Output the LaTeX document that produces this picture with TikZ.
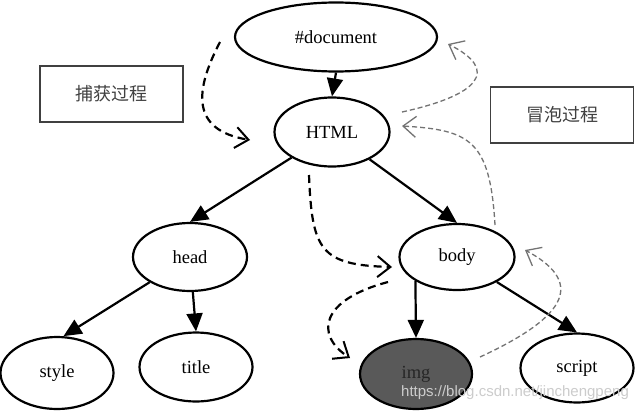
\documentclass[tikz,border=0pt]{standalone}
\usepackage{fontspec}
\setmainfont{Liberation Serif}
\newfontfamily\cjk{Noto Sans CJK SC}
\newfontfamily\wmfont{Liberation Sans}
\usetikzlibrary{shapes.geometric,arrows.meta}
\begin{document}
\begin{tikzpicture}[x=1pt,y=-1pt,
  el/.style={ellipse,draw,line width=2.2pt,inner sep=0pt,font=\fontsize{18.5}{20}\selectfont},
  edge/.style={line width=2.2pt,-{Triangle[length=18pt,width=16pt]}},
  capflow/.style={dash pattern=on 8pt off 5pt,line width=2.2pt,-{Straight Barb[length=13pt,width=21pt,line width=2pt]}},
  bubflow/.style={draw=black!55,dash pattern=on 5pt off 3pt,line width=1.3pt,-{Straight Barb[length=13pt,width=21pt,line width=1.3pt]}},
  lbl/.style={draw=black!75,line width=1.3pt,minimum width=143pt,minimum height=56pt,inner sep=0pt,font=\cjk\fontsize{18}{20}\selectfont,text=black!75}
]
\useasboundingbox[fill=white] (0,0) rectangle (642,412);

\node[el,minimum width=202pt,minimum height=69pt] (doc) at (336,37) {\#document};
\node[el,minimum width=115pt,minimum height=69pt] (html) at (332,132) {HTML};
\node[el,minimum width=114pt,minimum height=68pt] (head) at (190,257) {head};
\node[el,minimum width=115pt,minimum height=66pt] (body) at (457,257) {body};
\node[el,minimum width=113pt,minimum height=72pt] (style) at (57,373) {style};
\node[el,minimum width=113pt,minimum height=69pt] (title) at (196,367) {title};
\node[el,minimum width=112pt,minimum height=70pt,fill=black!65,text=black!85] (img) at (416,374) {img};
\node[el,minimum width=113pt,minimum height=69pt] (script) at (577,368) {script};

\node[lbl] (cbox) at (111.5,94) {捕获过程};
\node[lbl] (bbox) at (562,115) {冒泡过程};

\draw[edge] (doc.south) -- (html.north);
\draw[edge] (html) -- (head.north);
\draw[edge] (html) -- (body.north);
\draw[edge] (head) -- (style.80);
\draw[edge] (head) -- (title.north);
\draw[edge] (body.210) -- (img.north);
\draw[edge] (body) -- (script.north);

% capture (black dashed)
\coordinate (c1s) at (220,42);
\coordinate (c1e) at (250,140);
\coordinate (c2s) at (309,175);
\coordinate (c2e) at (392,267);
\coordinate (c3s) at (388,282);
\coordinate (c3e) at (350,358);
\draw[capflow] (c1s) .. controls (195,90) and (190,130) .. (c1e);
\draw[capflow] (c2s) .. controls (312,250) and (320,265) .. (c2e);
\draw[capflow] (c3s) .. controls (320,300) and (315,335) .. (c3e);

% bubble (grey dashed)
\coordinate (b1s) at (480,357);
\coordinate (b1e) at (525,250);
\coordinate (b2s) at (495,225);
\coordinate (b2e) at (402,126);
\coordinate (b3s) at (402,112);
\coordinate (b3e) at (448,44);
\draw[bubflow] (b1s) .. controls (560,320) and (590,285) .. (b1e);
\draw[bubflow] (b2s) .. controls (490,140) and (470,130) .. (b2e);
\draw[bubflow] (b3s) .. controls (480,95) and (500,70) .. (b3e);

\node[anchor=base west,inner sep=0pt,font=\wmfont\fontsize{15}{17}\selectfont,text=black!20] (wm) at (401,396) {https://blog.csdn.net/jinchengpeng};
\end{tikzpicture}
\end{document}
